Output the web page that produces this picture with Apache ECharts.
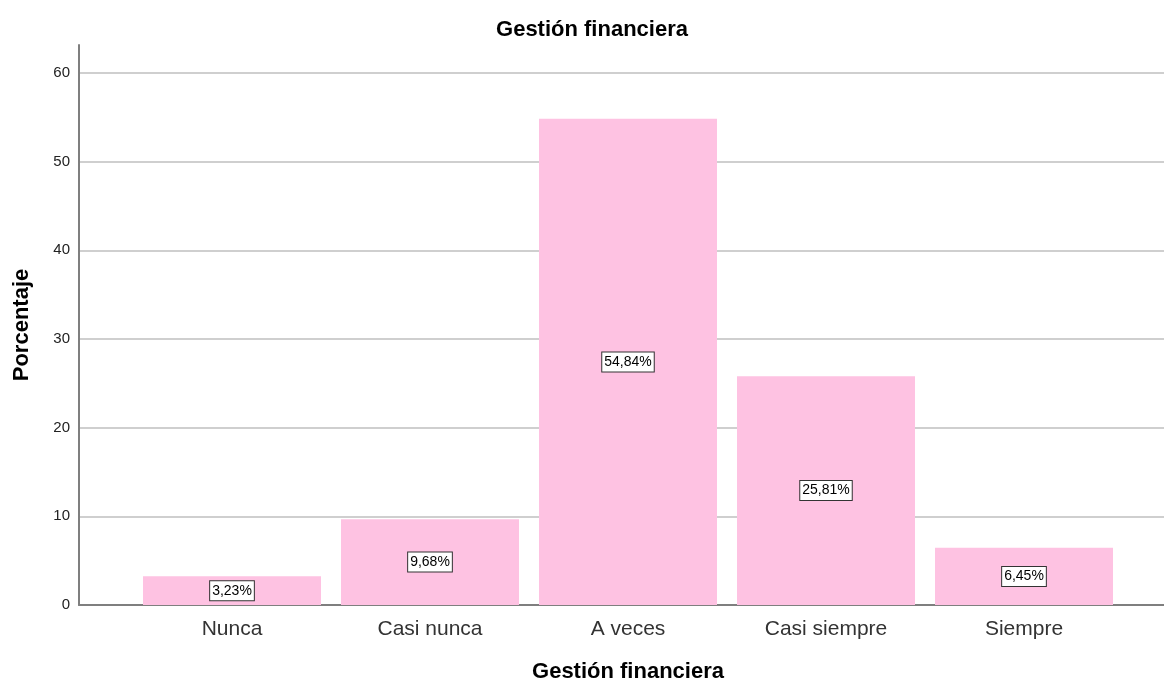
<!DOCTYPE html>
<html>
<head>
<meta charset="utf-8">
<script src="https://cdn.jsdelivr.net/npm/echarts@6/dist/echarts.min.js"></script>
<style>
  html, body { margin: 0; padding: 0; background: #fff; }
  #chart { width: 1164px; height: 684px; }
</style>
</head>
<body>
<div id="chart"></div>
<script>
const categories = ['Nunca', 'Casi nunca', 'A veces', 'Casi siempre', 'Siempre'];
const percentages = [3.23, 9.68, 54.84, 25.81, 6.45];
const yTicks = [0, 10, 20, 30, 40, 50, 60];

const font = 'Arial, "Liberation Sans", sans-serif';
const chart = echarts.init(document.getElementById('chart'));

const option = {
  backgroundColor: '#fff',
  animation: false,
  title: {
    text: 'Gestión financiera',
    left: 587,
    textAlign: 'center',
    top: 14,
    textStyle: { fontFamily: font, fontSize: 22, fontWeight: 'bold', color: '#000' },
  },
  grid: [
    // gridlines + tick labels
    { left: 79, right: 0, top: 73, bottom: 79, outerBoundsMode: 'none' },
    // full-height y axis line
    { left: 79, right: 0, top: 45, bottom: 79, outerBoundsMode: 'none' },
    // bars
    { left: 133, right: 41, top: 73, bottom: 79, outerBoundsMode: 'none' },
  ],
  xAxis: [
    {
      gridIndex: 0, type: 'value', min: 0, max: 1,
      axisLine: { show: true, onZero: false, lineStyle: { color: '#7f7f7f', width: 2 } },
      axisTick: { show: false }, axisLabel: { show: false }, splitLine: { show: false },
    },
    {
      gridIndex: 1, type: 'value', min: 0, max: 1, show: false,
    },
    {
      gridIndex: 2, type: 'category', data: categories,
      axisLine: { show: false }, axisTick: { show: false },
      axisLabel: { fontFamily: font, fontSize: 21, color: '#333', margin: 14 },
      name: 'Gestión financiera', nameLocation: 'middle', nameGap: 56,
      nameTextStyle: { fontFamily: font, fontSize: 22, fontWeight: 'bold', color: '#000' },
    },
  ],
  yAxis: [
    {
      gridIndex: 0, type: 'value', min: 0, max: 60, interval: 10,
      axisLine: { show: false }, axisTick: { show: false },
      axisLabel: {
        fontFamily: font, fontSize: 15, color: '#222', margin: 9,
        formatter: (v) => (yTicks.includes(v) ? String(v) : ''),
      },
      splitLine: { show: true, lineStyle: { color: '#cfcfcf', width: 2 } },
    },
    {
      gridIndex: 1, type: 'value', min: 0, max: 1,
      axisLine: { show: true, lineStyle: { color: '#7f7f7f', width: 2 } },
      axisTick: { show: false }, axisLabel: { show: false }, splitLine: { show: false },
      name: 'Porcentaje', nameLocation: 'middle', nameGap: 46, nameRotate: 90,
      nameTextStyle: { fontFamily: font, fontSize: 22, fontWeight: 'bold', color: '#000' },
    },
    {
      gridIndex: 2, type: 'value', min: 0, max: 60, show: false,
    },
  ],
  series: [
    {
      type: 'bar',
      xAxisIndex: 2,
      yAxisIndex: 2,
      data: percentages,
      barWidth: 178,
      itemStyle: { color: '#fec2e2' },
      label: {
        show: true,
        position: 'inside',
        formatter: (p) => p.value.toFixed(2).replace('.', ',') + '%',
        fontFamily: font,
        fontSize: 14,
        color: '#000',
        backgroundColor: '#fff',
        borderColor: '#333',
        borderWidth: 1,
        padding: [3, 2, 2, 2],
      },
    },
  ],
};

chart.setOption(option);
</script>
</body>
</html>
